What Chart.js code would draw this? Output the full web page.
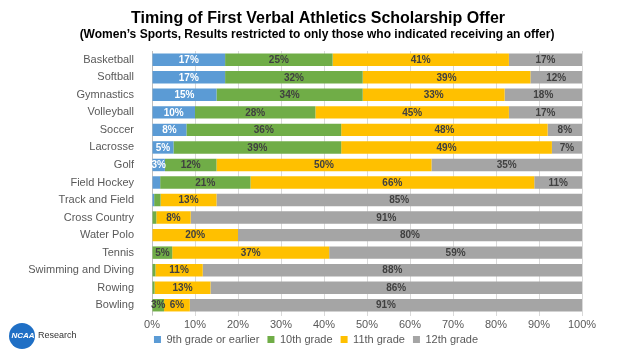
<!DOCTYPE html>
<html>
<head>
<meta charset="utf-8">
<script src="https://cdn.jsdelivr.net/npm/chart.js@4.4.1/dist/chart.umd.min.js"></script>
<style>
  html, body { margin: 0; padding: 0; background: #fff; }
  #wrap { width: 632px; height: 353px; position: relative; }
</style>
</head>
<body>
<div id="wrap"><canvas id="chart" width="632" height="353"></canvas></div>
<script>
// sports, top to bottom
const categories = [
  "Basketball", "Softball", "Gymnastics", "Volleyball", "Soccer", "Lacrosse",
  "Golf", "Field Hockey", "Track and Field", "Cross Country", "Water Polo",
  "Tennis", "Swimming and Diving", "Rowing", "Bowling"
];

// percent of athletes per grade of first verbal offer
const grade9 = [17, 17, 15, 10, 8, 5, 3, 1.9, 0.5, 0, 0, 0, 0, 0, 0];
const grade10 = [25, 32, 34, 28, 36, 39, 12, 21, 1.5, 1, 0, 4.7, 0.8, 0.6, 2.8];
const grade11 = [41, 39, 33, 45, 48, 49, 50, 66, 13, 8, 20, 36.5, 11, 13, 6];
const grade12 = [17, 12, 18, 17, 8, 7, 35, 11.1, 85, 91, 80, 58.8, 88.2, 86.4, 91.2];

const seriesNames = ["9th grade or earlier", "10th grade", "11th grade", "12th grade"];
const seriesColors = ["#5B9BD5", "#70AD47", "#FFC000", "#A5A5A5"];
const xTicks = [0, 10, 20, 30, 40, 50, 60, 70, 80, 90, 100];

const titleText = "Timing of First Verbal Athletics Scholarship Offer";
const subtitleText = "(Women\u2019s Sports, Results restricted to only those who indicated receiving an offer)";

const FONT = "'Liberation Sans', Arial, sans-serif";
const NARROW = "'Liberation Sans Narrow', 'Arial Narrow', 'Liberation Sans', Arial, sans-serif";

// percent labels inside the segments
const barLabels = {
  id: "barLabels",
  afterDatasetsDraw(chart) {
    const ctx = chart.ctx;
    ctx.save();
    ctx.font = "bold 10px " + FONT;
    ctx.textAlign = "center";
    ctx.textBaseline = "middle";
    chart.data.datasets.forEach((ds, di) => {
      const meta = chart.getDatasetMeta(di);
      meta.data.forEach((bar, i) => {
        const v = Math.round(ds.data[i]);
        if (v < 3) return;
        const cx = (bar.x + bar.base) / 2;
        ctx.fillStyle = di === 0 ? "#ffffff" : "#404040";
        ctx.fillText(v + "%", cx, bar.y + 0.5);
      });
    });
    ctx.restore();
  }
};

// title block centred on the whole page, plus the NCAA Research badge
const decorations = {
  id: "decorations",
  afterDraw(chart) {
    const ctx = chart.ctx;
    const mid = chart.width / 2;
    ctx.save();
    ctx.textAlign = "center";
    ctx.textBaseline = "alphabetic";
    ctx.fillStyle = "#000000";
    ctx.font = "bold 16px " + NARROW;
    ctx.fillText(titleText, mid + 2, 23);
    ctx.font = "bold 12px " + NARROW;
    ctx.fillText(subtitleText, mid + 1, 38);

    ctx.beginPath();
    ctx.arc(22, 336, 13, 0, Math.PI * 2);
    ctx.fillStyle = "#1F6FC5";
    ctx.fill();
    ctx.fillStyle = "#ffffff";
    ctx.font = "italic bold 8px " + NARROW;
    ctx.textBaseline = "middle";
    ctx.fillText("NCAA", 23, 336);
    ctx.fillStyle = "#333333";
    ctx.font = "9px " + NARROW;
    ctx.textAlign = "left";
    ctx.fillText("Research", 38, 336);
    ctx.restore();
  }
};

const ctx = document.getElementById("chart").getContext("2d");
new Chart(ctx, {
  type: "bar",
  data: {
    labels: categories,
    datasets: [grade9, grade10, grade11, grade12].map((d, i) => ({
      label: seriesNames[i],
      data: d,
      backgroundColor: seriesColors[i],
      borderWidth: 0,
      categoryPercentage: 1,
      barPercentage: 0.71
    }))
  },
  options: {
    indexAxis: "y",
    responsive: false,
    animation: false,
    layout: { padding: { top: 51, right: 0, bottom: -2, left: 0 } },
    scales: {
      x: {
        stacked: true,
        min: 0,
        max: 100,
        afterBuildTicks: (scale) => {
          scale.ticks = xTicks.map((v) => ({ value: v }));
        },
        afterFit: (scale) => { scale.height = 15; },
        ticks: {
          callback: (v) => v + "%",
          color: "#595959",
          font: { family: FONT, size: 11 },
          padding: 2,
          maxRotation: 0
        },
        grid: { color: "#D9D9D9", tickLength: 2 },
        border: { display: false }
      },
      y: {
        stacked: true,
        afterFit: (scale) => { scale.width = 152; },
        ticks: {
          color: "#595959",
          font: { family: FONT, size: 11 },
          padding: 10
        },
        grid: { display: false },
        border: { color: "#BFBFBF" }
      },
      // empty right-hand axis keeps a 50px margin so the legend centres on the page
      yRight: {
        axis: "y",
        type: "category",
        position: "right",
        afterFit: (scale) => { scale.width = 50; },
        ticks: { display: false },
        grid: { display: false },
        border: { display: false }
      }
    },
    plugins: {
      title: { display: false },
      legend: {
        position: "bottom",
        labels: {
          boxWidth: 7,
          boxHeight: 7,
          padding: 5,
          color: "#595959",
          font: { family: FONT, size: 11 },
          // small vertical padding, so widen the gap between items with a trailing space
          generateLabels: (chart) => {
            const items = Chart.defaults.plugins.legend.labels.generateLabels(chart);
            items.forEach((it, i) => {
              if (i < items.length - 1) it.text += " ";
            });
            return items;
          }
        }
      },
      tooltip: { enabled: false }
    }
  },
  plugins: [barLabels, decorations]
});
</script>
</body>
</html>
